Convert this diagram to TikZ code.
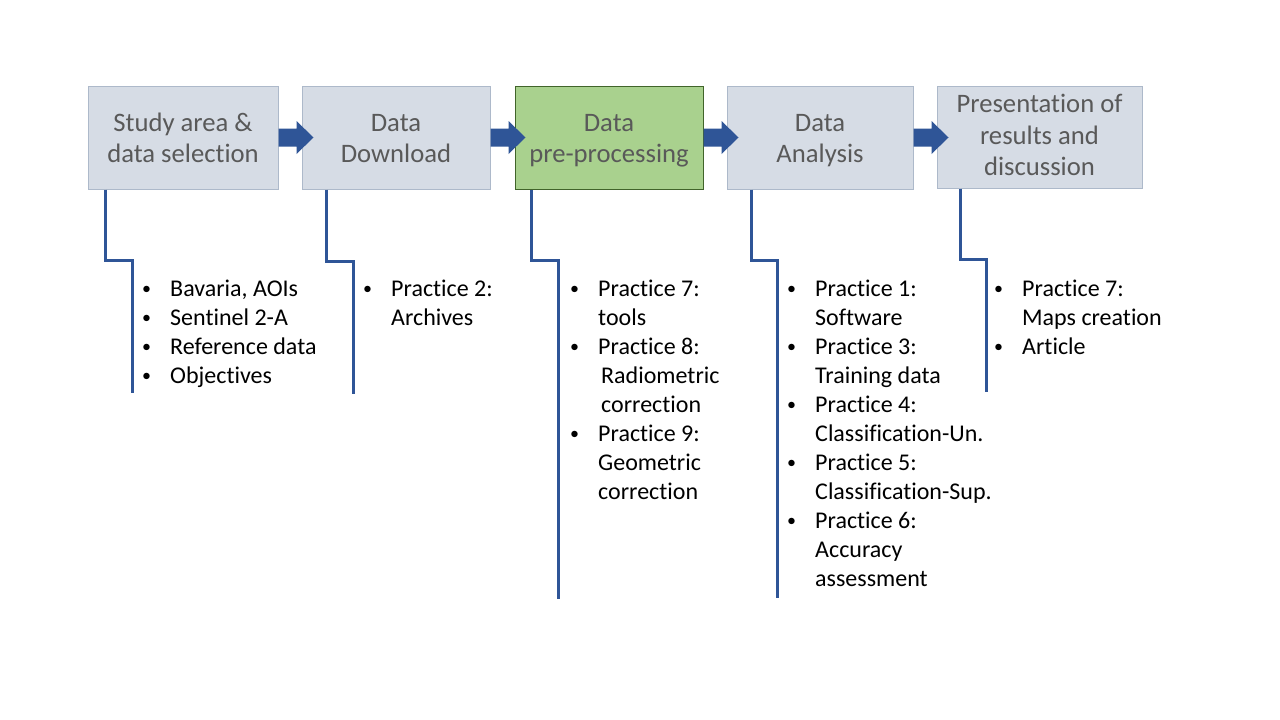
\documentclass[tikz,border=0pt]{standalone}
\usepackage{fontspec}
\setmainfont[Ligatures=NoCommon]{Carlito}
\usetikzlibrary{calc}
\definecolor{boxfill}{HTML}{D6DCE5}
\definecolor{boxline}{HTML}{ADB9CA}
\definecolor{greenfill}{HTML}{A9D18E}
\definecolor{greenline}{HTML}{41642A}
\definecolor{boxtext}{HTML}{595959}
\definecolor{darkblue}{HTML}{2F5597}
\newcommand{\boxfont}{\fontsize{26.67}{31.5}\selectfont}
\newcommand{\listfont}{\fontsize{24}{29}\selectfont}
\newcommand{\lbul}{\hspace*{1pt}\raisebox{1.5pt}{\fontsize{18}{29}\selectfont\textbullet}}
\newcommand{\blockarrow}[1]{%
  \fill[darkblue] ($(#1.east)+(0,9)$) -- ++(18,0) -- ++(0,7.5) -- ++(17,-16.5)
    -- ++(-17,-16.5) -- ++(0,7.5) -- ++(-18,0) -- cycle;}
\tikzset{
  stagebox/.style={draw=boxline, fill=boxfill, line width=1pt, inner sep=0pt},
  greenbox/.style={draw=greenline, fill=greenfill, line width=1pt, inner sep=0pt},
  boxlabel/.style={anchor=base, inner sep=0pt, text=boxtext, font=\boxfont},
  listlabel/.style={anchor=base west, inner sep=0pt, text=black, font=\listfont},
  conn/.style={draw=darkblue, line width=3pt, line cap=butt, line join=miter},
}
\begin{document}
\begin{tikzpicture}[x=1pt,y=-1pt]
\useasboundingbox[fill=white] (0,0) rectangle (1280,720);

% stage boxes
\node[stagebox, minimum width=190pt, minimum height=103pt] (b1) at (183,137.5) {};
\node[stagebox, minimum width=188pt, minimum height=103pt] (b2) at (396,137.5) {};
\node[greenbox, minimum width=188pt, minimum height=103pt] (b3) at (609,137.5) {};
\node[stagebox, minimum width=186pt, minimum height=103pt] (b4) at (820,137.5) {};
\node[stagebox, minimum width=205pt, minimum height=102pt] (b5) at (1039.5,137) {};

% box texts (anchored at baseline of last line)
\node[boxlabel] (t1) at (183,162.5) {\begin{tabular}[b]{@{}c@{}}Study area \&\\data selection\end{tabular}};
\node[boxlabel] (t2) at (396,162.5) {\begin{tabular}[b]{@{}c@{}}Data\\Download\end{tabular}};
\node[boxlabel] (t3) at (609,162.5) {\begin{tabular}[b]{@{}c@{}}Data\\pre-processing\end{tabular}};
\node[boxlabel] (t4) at (820,162.5) {\begin{tabular}[b]{@{}c@{}}Data\\Analysis\end{tabular}};
\node[boxlabel] (t5) at (1039.5,175.5) {\begin{tabular}[b]{@{}c@{}}Presentation of\\results and\\discussion\end{tabular}};

% block arrows
\blockarrow{b1}
\blockarrow{b2}
\blockarrow{b3}
\blockarrow{b4}

% connectors
\coordinate (e1) at (132,393);
\coordinate (e2) at (353,394);
\coordinate (e3) at (558,599);
\coordinate (e4) at (777,598);
\coordinate (e5) at (986,392);
\draw[conn] ([xshift=18pt]b1.south west) -- ++(0,71) -| (e1);
\draw[conn] ([xshift=25pt]b2.south west) -- ++(0,72) -| (e2);
\draw[conn] ([xshift=17pt]b3.south west) -- ++(0,71) -| (e3);
\draw[conn] ([xshift=25pt]b4.south west) -- ++(0,71) -| (e4);
\draw[conn] ([xshift=24pt]b5.south west) -- ++(0,71) -| (e5);

% bullet lists (anchored at first baseline)
\node[listlabel] (l1) at (141,296) {\begin{tabular}[t]{@{}p{29pt}@{}l@{}}
\lbul & Bavaria, AOIs\\
\lbul & Sentinel 2-A\\
\lbul & Reference data\\
\lbul & Objectives
\end{tabular}};
\node[listlabel] (l2) at (362,296) {\begin{tabular}[t]{@{}p{29pt}@{}l@{}}
\lbul & Practice 2:\\
 & Archives
\end{tabular}};
\node[listlabel] (l3) at (569,296) {\begin{tabular}[t]{@{}p{29pt}@{}l@{}}
\lbul & Practice 7:\\
 & tools\\
\lbul & Practice 8:\\
 & \hspace*{3pt}Radiometric\\
 & \hspace*{3pt}correction\\
\lbul & Practice 9:\\
 & Geometric\\
 & correction
\end{tabular}};
\node[listlabel] (l4) at (786,296) {\begin{tabular}[t]{@{}p{29pt}@{}l@{}}
\lbul & Practice 1:\\
 & Software\\
\lbul & Practice 3:\\
 & Training data\\
\lbul & Practice 4:\\
 & Classification-Un.\\
\lbul & Practice 5:\\
 & Classification-Sup.\\
\lbul & Practice 6:\\
 & Accuracy\\
 & assessment
\end{tabular}};
\node[listlabel] (l5) at (993,296) {\begin{tabular}[t]{@{}p{29pt}@{}l@{}}
\lbul & Practice 7:\\
 & Maps creation\\
\lbul & Article
\end{tabular}};
\end{tikzpicture}
\end{document}
